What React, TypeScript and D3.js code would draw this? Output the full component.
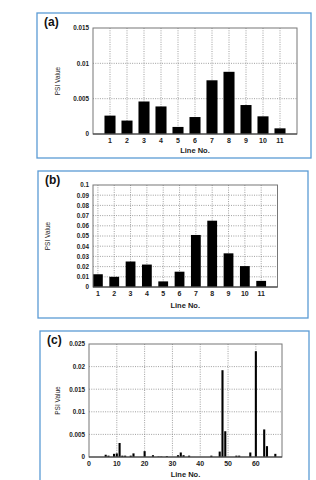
import React, { useRef, useEffect } from 'react';
import * as d3 from 'd3';

// panel (a) and (b): 11 lines
const lineNos = [1, 2, 3, 4, 5, 6, 7, 8, 9, 10, 11];
const psiA = [0.0026, 0.0019, 0.0046, 0.0039, 0.001, 0.0024, 0.0076, 0.0088, 0.0041, 0.0025, 0.0008];
const psiB = [0.0125, 0.01, 0.025, 0.022, 0.0055, 0.015, 0.051, 0.065, 0.033, 0.0205, 0.006];

// panel (c): larger system
const lineNosC = [6, 7, 9, 10, 11, 12, 13, 15, 16, 20, 23, 25, 26, 28, 32, 33, 34, 36, 44, 47, 48, 49, 53, 54, 58, 60, 63, 64, 67];
const psiC = [0.0005, 0.0003, 0.0007, 0.0008, 0.0031, 0.0003, 0.0003, 0.0003, 0.0008, 0.0013, 0.0004, 0.0001, 0.0001, 0.0002, 0.0004, 0.001, 0.0004, 0.0003, 0.0003, 0.0012, 0.0192, 0.0057, 0.0003, 0.0003, 0.001, 0.0234, 0.0061, 0.0024, 0.0007];

const yTicksA = [0, 0.005, 0.01, 0.015];
const yTicksB = [0, 0.01, 0.02, 0.03, 0.04, 0.05, 0.06, 0.07, 0.08, 0.09, 0.1];
const yTicksC = [0, 0.005, 0.01, 0.015, 0.02, 0.025];
const xTicksC = [0, 10, 20, 30, 40, 50, 60];

const fmt = (v) => String(+v.toFixed(3));

const font = 'Liberation Sans, Arial, sans-serif';

const Panel = ({ box, plot, tag, xs, ys, xDomain, yDomain, yTicks, xTicks, xGrid, barW, ylabX, titleY }) => {
  const gRef = useRef();

  useEffect(() => {
    const g = d3.select(gRef.current);
    g.selectAll('*').remove();

    // outer blue frame
    g.append('rect')
      .attr('x', box.x).attr('y', box.y)
      .attr('width', box.w).attr('height', box.h)
      .attr('fill', 'white')
      .attr('stroke', '#5b9bd5')
      .attr('stroke-width', 1.3);

    g.append('text')
      .attr('x', box.x + 7).attr('y', box.y + 13)
      .attr('font-family', font).attr('font-weight', 'bold')
      .attr('font-size', 12).attr('fill', '#111')
      .text(tag);

    const x = d3.scaleLinear().domain(xDomain).range([plot.x0, plot.x1]);
    const y = d3.scaleLinear().domain(yDomain).range([plot.y1, plot.y0]);

    // grid
    g.selectAll('.hg').data(yTicks.slice(1, -1)).join('line')
      .attr('x1', plot.x0).attr('x2', plot.x1)
      .attr('y1', d => y(d)).attr('y2', d => y(d))
      .attr('stroke', '#777').attr('stroke-width', 0.7)
      .attr('stroke-dasharray', '1,1.3');
    g.selectAll('.vg').data(xGrid).join('line')
      .attr('x1', d => x(d)).attr('x2', d => x(d))
      .attr('y1', plot.y0).attr('y2', plot.y1)
      .attr('stroke', '#777').attr('stroke-width', 0.7)
      .attr('stroke-dasharray', '1,1.3');

    // bars
    g.selectAll('.bar').data(xs).join('rect')
      .attr('x', d => x(d - barW / 2))
      .attr('width', x(barW) - x(0))
      .attr('y', (d, i) => y(ys[i]))
      .attr('height', (d, i) => y(0) - y(ys[i]))
      .attr('fill', '#000');

    // plot frame
    g.append('rect')
      .attr('x', plot.x0).attr('y', plot.y0)
      .attr('width', plot.x1 - plot.x0).attr('height', plot.y1 - plot.y0)
      .attr('fill', 'none').attr('stroke', '#777').attr('stroke-width', 1);
    g.append('line')
      .attr('x1', plot.x0).attr('x2', plot.x1)
      .attr('y1', plot.y1).attr('y2', plot.y1)
      .attr('stroke', '#333').attr('stroke-width', 1);

    // y tick labels
    g.selectAll('.yl').data(yTicks).join('text')
      .attr('x', plot.x0 - 4).attr('y', d => y(d) + 2.3)
      .attr('text-anchor', 'end')
      .attr('font-family', font).attr('font-weight', 'bold')
      .attr('font-size', 6.3).attr('fill', '#222')
      .text(fmt);

    // x tick labels
    g.selectAll('.xl').data(xTicks).join('text')
      .attr('x', d => x(d)).attr('y', plot.y1 + 9)
      .attr('text-anchor', 'middle')
      .attr('font-family', font).attr('font-weight', 'bold')
      .attr('font-size', 7).attr('fill', '#222')
      .text(d => d);

    g.append('text')
      .attr('x', (plot.x0 + plot.x1) / 2).attr('y', titleY)
      .attr('text-anchor', 'middle')
      .attr('font-family', font).attr('font-weight', 'bold')
      .attr('font-size', 7.5).attr('fill', '#222')
      .text('Line No.');

    g.append('text')
      .attr('transform', `translate(${ylabX},${(plot.y0 + plot.y1) / 2}) rotate(-90)`)
      .attr('text-anchor', 'middle')
      .attr('font-family', font)
      .attr('font-size', 6.5).attr('fill', '#222')
      .text('PSI Value');
  }, []);

  return <g ref={gRef}></g>;
};

export default function App() {
  return (
    <div style={{ position: 'absolute', left: 0, top: 0 }}>
      <svg width={316} height={480} style={{ display: 'block', background: 'white' }}>
        <Panel
          box={{ x: 37, y: 13, w: 274, h: 145 }}
          plot={{ x0: 93, x1: 297, y0: 28, y1: 134 }}
          tag="(a)"
          xs={lineNos} ys={psiA}
          xDomain={[0, 12]} yDomain={[0, 0.015]}
          yTicks={yTicksA} xTicks={lineNos} xGrid={lineNos}
          barW={0.65} ylabX={60} titleY={153}
        />
        <Panel
          box={{ x: 38, y: 171, w: 270, h: 147 }}
          plot={{ x0: 93, x1: 277.5, y0: 185, y1: 287 }}
          tag="(b)"
          xs={lineNos} ys={psiB}
          xDomain={[0.7, 12]} yDomain={[0, 0.1]}
          yTicks={yTicksB} xTicks={lineNos} xGrid={lineNos}
          barW={0.6} ylabX={50} titleY={308}
        />
        <Panel
          box={{ x: 40, y: 331, w: 269, h: 160 }}
          plot={{ x0: 89, x1: 282, y0: 344, y1: 457 }}
          tag="(c)"
          xs={lineNosC} ys={psiC}
          xDomain={[0, 69.4]} yDomain={[0, 0.025]}
          yTicks={yTicksC} xTicks={xTicksC} xGrid={xTicksC.slice(1)}
          barW={0.75} ylabX={60} titleY={477}
        />
      </svg>
    </div>
  );
}
